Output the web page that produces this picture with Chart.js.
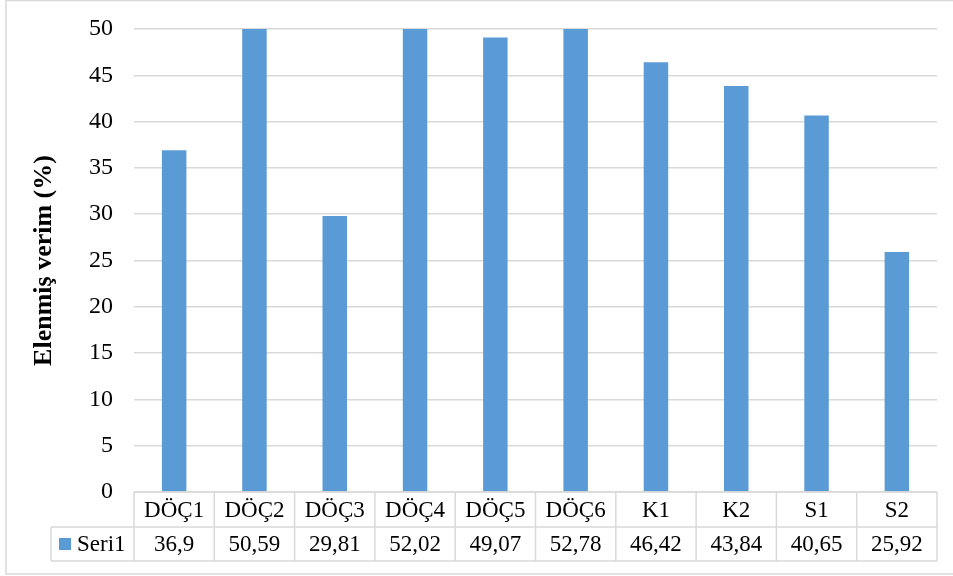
<!doctype html>
<html>
<head>
    <title>Elenmiş verim</title>
    <script src="https://cdn.jsdelivr.net/npm/chart.js@4.4.1/dist/chart.umd.min.js"></script>
    <style>
    html, body { margin: 0; padding: 0; background: #fff; }
    #container { width: 953px; height: 576px; }
    </style>
</head>
<body>
    <div id="container"><canvas id="canvas"></canvas></div>
    <script>
        var CATEGORIES = ['DÖÇ1', 'DÖÇ2', 'DÖÇ3', 'DÖÇ4', 'DÖÇ5', 'DÖÇ6', 'K1', 'K2', 'S1', 'S2'];
        var SERI1 = [36.9, 50.59, 29.81, 52.02, 49.07, 52.78, 46.42, 43.84, 40.65, 25.92];
        var SERIES_NAME = 'Seri1';
        var Y_MIN = 0, Y_MAX = 50, Y_STEP = 5;
        var AXIS_TITLE = 'Elenmiş verim (%)';

        var FONT = '"Liberation Serif", "Times New Roman", serif';
        var BLUE = '#5B9BD5';
        var GRID = '#d9d9d9';

        // frame round the whole chart
        var framePlugin = {
            id: 'frame',
            beforeDraw: function(chart) {
                var ctx = chart.ctx;
                ctx.save();
                ctx.fillStyle = '#fff';
                ctx.fillRect(0, 0, chart.width, chart.height);
                ctx.strokeStyle = GRID;
                ctx.lineWidth = 1.5;
                ctx.strokeRect(6, 0.5, chart.width + 10, 573.5);
                ctx.restore();
            }
        };

        // excel style data table under the plot
        var tablePlugin = {
            id: 'dataTable',
            afterDraw: function(chart) {
                var ctx = chart.ctx;
                var xs = chart.scales.x;
                var area = chart.chartArea;
                var n = CATEGORIES.length;
                var colW = (area.right - area.left) / n;
                var top = area.bottom, mid = top + 35, bot = mid + 34;
                var labLeft = 51;

                ctx.save();
                ctx.strokeStyle = GRID;
                ctx.lineWidth = 1.5;
                ctx.beginPath();
                ctx.moveTo(area.left, top); ctx.lineTo(area.right, top);
                ctx.moveTo(labLeft, mid); ctx.lineTo(area.right, mid);
                ctx.moveTo(labLeft, bot); ctx.lineTo(area.right, bot);
                ctx.moveTo(labLeft, mid); ctx.lineTo(labLeft, bot);
                for (var i = 0; i <= n; i++) {
                    var lx = area.left + i * colW;
                    ctx.moveTo(lx, top); ctx.lineTo(lx, bot);
                }
                ctx.stroke();

                ctx.fillStyle = '#000';
                ctx.font = '23px ' + FONT;
                ctx.textAlign = 'center';
                ctx.textBaseline = 'middle';
                for (var j = 0; j < n; j++) {
                    var cx = xs.getPixelForValue(j);
                    ctx.fillText(CATEGORIES[j], cx, (top + mid) / 2 + 1);
                    ctx.fillText(String(SERI1[j]).replace('.', ','), cx, (mid + bot) / 2 + 1);
                }

                // legend key
                ctx.fillStyle = BLUE;
                ctx.fillRect(59, mid + 11, 12, 12);
                ctx.fillStyle = '#000';
                ctx.textAlign = 'left';
                ctx.fillText(SERIES_NAME, 77, (mid + bot) / 2 + 1);
                ctx.restore();
            }
        };

        window.onload = function() {
            var ctx = document.getElementById('canvas').getContext('2d');
            window.myBar = new Chart(ctx, {
                type: 'bar',
                data: {
                    labels: CATEGORIES,
                    datasets: [{
                        label: SERIES_NAME,
                        data: SERI1,
                        backgroundColor: BLUE,
                        borderWidth: 0,
                        categoryPercentage: 1,
                        barPercentage: 0.305
                    }]
                },
                options: {
                    responsive: true,
                    maintainAspectRatio: false,
                    animation: false,
                    layout: { padding: { left: 6, right: 16, top: 29, bottom: 84 } },
                    plugins: {
                        legend: { display: false },
                        tooltip: { enabled: false }
                    },
                    scales: {
                        x: { display: false },
                        y: {
                            min: Y_MIN,
                            max: Y_MAX,
                            border: { display: false },
                            // invisible tick marks give the label gap without padding the top
                            grid: { color: GRID, lineWidth: 1.5, drawTicks: true, tickLength: 19, tickColor: 'rgba(0,0,0,0)' },
                            ticks: {
                                stepSize: Y_STEP,
                                padding: 2,
                                color: '#000',
                                font: { family: FONT, size: 24 }
                            },
                            title: {
                                display: true,
                                text: AXIS_TITLE,
                                color: '#000',
                                padding: { top: 23 },
                                font: { family: FONT, size: 26, weight: 'bold' }
                            },
                            afterFit: function(scale) { scale.width = 128; }
                        }
                    }
                },
                plugins: [framePlugin, tablePlugin]
            });
        };
    </script>
</body>
</html>
